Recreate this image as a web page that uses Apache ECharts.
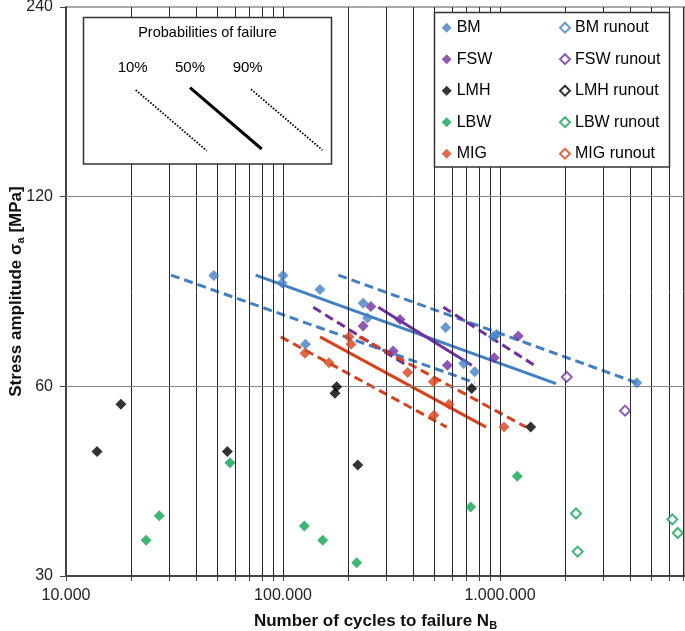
<!DOCTYPE html>
<html>
<head>
<meta charset="utf-8">
<script src="https://cdn.jsdelivr.net/npm/echarts@6/dist/echarts.min.js"></script>
<style>
html,body{margin:0;padding:0;background:#fff;}
#c{width:685px;height:631px;}
</style>
</head>
<body>
<div id="c"></div>
<script>
// ---- data (N = cycles to failure, S = stress amplitude in MPa) ----
const bmN  = [48000, 100000, 99000, 148000, 127000, 234000, 245000, 562000, 930000, 965000, 680000, 765000, 4270000];
const bmS  = [90, 90, 87.5, 85.5, 70, 81.3, 77, 74.4, 72, 72.6, 65.2, 63.3, 60.8];
const bmRunN = [];
const bmRunS = [];
const fswN = [254000, 346000, 234000, 322000, 572000, 1214000, 941000];
const fswS = [80.3, 76.6, 74.8, 68.3, 64.8, 72.1, 66.6];
const fswRunN = [2030000, 3770000];
const fswRunS = [62.1, 54.9];
const lmhN = [13900, 17900, 55400, 176800, 173600, 221000, 740600, 1385000];
const lmhS = [47.3, 56.2, 47.3, 59.9, 58.5, 45.0, 59.5, 51.7];
const lmhRunN = [];
const lmhRunS = [];
const lbwN = [26900, 23400, 57000, 125400, 152400, 218600, 732800, 1201000];
const lbwS = [37.4, 34.2, 45.4, 36.0, 34.2, 31.5, 38.6, 43.2];
const lbwRunN = [2239000, 2280000, 6223000, 6590000];
const lbwRunS = [37.7, 32.8, 36.9, 35.1];
const migN = [126300, 162900, 201400, 205700, 375500, 492700, 582100, 496500, 1043000];
const migS = [67.7, 65.4, 71.9, 70.0, 63.1, 61.0, 56.2, 54.0, 51.7];
const migRunN = [];
const migRunS = [];

// S-N curves: [start, end] for 10 %, 50 %, 90 % probability of failure
const bmP10N = [30470, 767000],   bmP10S = [90.1, 60.8];
const bmP50N = [74820, 1812000],  bmP50S = [90.1, 60.6];
const bmP90N = [179800, 4418000], bmP90S = [90.1, 60.5];
const fswP10N = [137900, 371200],  fswP10S = [80.1, 64.8];
const fswP50N = [274900, 740600],  fswP50S = [80.1, 64.8];
const fswP90N = [547900, 1462000], fswP90S = [80.1, 64.6];
const migP10N = [97590, 568000],   migP10S = [71.9, 51.7];
const migP50N = [148100, 862100],  migP50S = [71.9, 51.7];
const migP90N = [224700, 1318000], migP90S = [71.9, 51.7];

// axis ticks
const xLabelValues = [10000, 100000, 1000000];
const xGridValues = [20000,30000,40000,50000,60000,70000,80000,90000,
  100000,200000,300000,400000,500000,600000,700000,800000,900000,
  1000000,2000000,3000000,4000000,5000000,6000000,7000000];
const yLabelValues = [30, 60, 120, 240];
const yGridValues = [60, 120];

const seriesNames = ['BM','FSW','LMH','LBW','MIG'];
const colors = {BM:'#437fc3', FSW:'#7030a0', LMH:'#000000', LBW:'#0ea552', MIG:'#d8431d'};

// ---- build ----
const zip = (a, b) => a.map((v, i) => [v, b[i]]);
const FONT = '"Liberation Sans", Arial, sans-serif';

function filled(name, N, S) {
  return {name, type:'scatter', data: zip(N,S), symbol:'diamond', symbolSize:11,
    itemStyle:{color:colors[name]}, z:5, emphasis:{disabled:true}};
}
function runout(name, N, S) {
  return {name: name + ' runout', type:'scatter', data: zip(N,S), symbol:'emptyDiamond', symbolSize:10,
    itemStyle:{color:colors[name], borderWidth:1.8}, z:5, emphasis:{disabled:true}};
}
function curve(name, N, S, dashed) {
  return {name: name + '_curve', type:'line', data: zip(N,S), showSymbol:false, symbol:'none',
    lineStyle:{color:colors[name], width:3, type: dashed ? [9,5] : 'solid'}, z:4, silent:true,
    emphasis:{disabled:true}};
}

const series = [
  {name:'gridX', type:'scatter', data:[], silent:true, z:1,
   markLine:{silent:true, symbol:['none','none'], label:{show:false}, animation:false,
     lineStyle:{color:'#2a2a2a', width:1, type:'solid'}, emphasis:{disabled:true},
     data: xGridValues.map(v => ({xAxis:v}))}},
  {name:'gridY', type:'scatter', data:[], silent:true, z:1,
   markLine:{silent:true, symbol:['none','none'], label:{show:false}, animation:false,
     lineStyle:{color:'#888', width:1, type:'solid'}, emphasis:{disabled:true},
     data: yGridValues.map(v => ({yAxis:v}))}},
  curve('BM', bmP10N, bmP10S, true), curve('BM', bmP50N, bmP50S, false), curve('BM', bmP90N, bmP90S, true),
  curve('FSW', fswP10N, fswP10S, true), curve('FSW', fswP50N, fswP50S, false), curve('FSW', fswP90N, fswP90S, true),
  curve('MIG', migP10N, migP10S, true), curve('MIG', migP50N, migP50S, false), curve('MIG', migP90N, migP90S, true),
  filled('BM', bmN, bmS), filled('FSW', fswN, fswS), filled('LMH', lmhN, lmhS), filled('LBW', lbwN, lbwS), filled('MIG', migN, migS),
  runout('BM', bmRunN, bmRunS), runout('FSW', fswRunN, fswRunS), runout('LMH', lmhRunN, lmhRunS),
  runout('LBW', lbwRunN, lbwRunS), runout('MIG', migRunN, migRunS)
];

const fmtThousands = v => String(Math.round(v)).replace(/\B(?=(\d{3})+(?!\d))/g, '.');

const legendCommon = {orient:'vertical', padding:0, itemGap:15.5, itemWidth:10, itemHeight:10,
  textStyle:{fontFamily:FONT, fontSize:16, color:'#000', lineHeight:16}, z:20, selectedMode:false};

const option = {
  animation:false,
  textStyle:{fontFamily:FONT},
  grid:{left:66, top:7, right:0, bottom:55, show:true, borderColor:'#555', borderWidth:1,
    containLabel:false, outerBoundsMode:'none'},
  xAxis:{type:'log', logBase:10, min:10000, max:7120000,
    name:'Number of cycles to failure N{sub|B}', nameLocation:'middle', nameGap:36, nameMoveOverlap:false,
    nameTextStyle:{fontFamily:FONT, fontSize:17, fontWeight:'bold', color:'#111',
      rich:{sub:{fontFamily:FONT, fontSize:11, fontWeight:'bold', color:'#111', verticalAlign:'bottom', padding:[8,0,0,0]}}},
    axisLine:{show:true, lineStyle:{color:'#444', width:2}},
    axisTick:{show:true, inside:false, length:5, customValues: xLabelValues.concat(xGridValues), lineStyle:{color:'#444'}},
    axisLabel:{fontFamily:FONT, fontSize:16, color:'#222', margin:12, customValues: xLabelValues,
      formatter: v => fmtThousands(v)},
    splitLine:{show:false}, minorSplitLine:{show:false}
  },
  yAxis:{type:'log', logBase:2, min:30, max:240,
    name:'Stress amplitude σ{sub|a} [MPa]', nameLocation:'middle', nameGap:40, nameRotate:90, nameMoveOverlap:false,
    nameTextStyle:{fontFamily:FONT, fontSize:17, fontWeight:'bold', color:'#111',
      rich:{sub:{fontFamily:FONT, fontSize:11, fontWeight:'bold', color:'#111', verticalAlign:'bottom', padding:[8,0,0,0]}}},
    axisLine:{show:true, lineStyle:{color:'#444', width:2}},
    axisTick:{show:true, inside:false, length:6, customValues: yLabelValues, lineStyle:{color:'#444'}},
    axisLabel:{fontFamily:FONT, fontSize:16, color:'#222', margin:13, customValues: yLabelValues,
      formatter: v => String(Math.round(v))},
    splitLine:{show:false}
  },
  legend:[
    Object.assign({}, legendCommon, {left:441.7, top:19.7, data: seriesNames}),
    Object.assign({}, legendCommon, {left:559, top:19.7, data: seriesNames.map(n => n + ' runout')})
  ],
  graphic:[
    {type:'rect', z:10, shape:{x:434.5, y:12.5, width:235, height:154.5},
     style:{fill:'#fff', stroke:'#333', lineWidth:1.5}},
    {type:'rect', z:10, shape:{x:83.5, y:17.5, width:248, height:146.5},
     style:{fill:'#fff', stroke:'#333', lineWidth:1.5}},
    {type:'text', z:11, x:207.5, y:33, style:{text:'Probabilities of failure', fontFamily:FONT, fontSize:14.5,
      fill:'#000', align:'center', verticalAlign:'middle'}},
    {type:'text', z:11, x:132.7, y:67.5, style:{text:'10%', fontFamily:FONT, fontSize:15, fill:'#000', align:'center', verticalAlign:'middle'}},
    {type:'text', z:11, x:190, y:67.5, style:{text:'50%', fontFamily:FONT, fontSize:15, fill:'#000', align:'center', verticalAlign:'middle'}},
    {type:'text', z:11, x:247.7, y:67.5, style:{text:'90%', fontFamily:FONT, fontSize:15, fill:'#000', align:'center', verticalAlign:'middle'}},
    {type:'line', z:11, shape:{x1:135.7, y1:90, x2:206.7, y2:150.7}, style:{stroke:'#000', lineWidth:1.8, lineDash:[1.6,1.6]}},
    {type:'line', z:11, shape:{x1:190, y1:87.7, x2:261.7, y2:149}, style:{stroke:'#000', lineWidth:3}},
    {type:'line', z:11, shape:{x1:251, y1:89.3, x2:322.3, y2:150}, style:{stroke:'#000', lineWidth:1.8, lineDash:[1.6,1.6]}}
  ],
  series
};

const chart = echarts.init(document.getElementById('c'), null, {renderer:'canvas'});
chart.setOption(option);
</script>
</body>
</html>
